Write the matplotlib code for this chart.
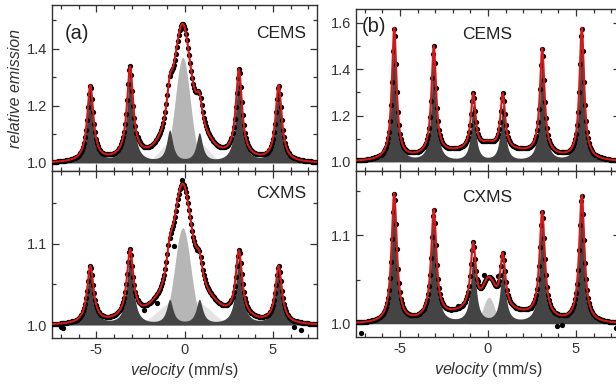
import numpy as np
import matplotlib.pyplot as plt
from matplotlib.ticker import MultipleLocator

plt.rcParams['font.family'] = ['Liberation Sans', 'DejaVu Sans']
plt.rcParams['mathtext.fontset'] = 'custom'
plt.rcParams['mathtext.it'] = 'Liberation Sans:italic'
plt.rcParams['mathtext.rm'] = 'Liberation Sans'

# positions of the six sextet lines (mm/s)
line_pos = [-5.33, -3.08, -0.84, 0.84, 3.08, 5.33]

# (a) CEMS: sextet heights, hwhm; light doublet; central singlet; broad background
a_cems_sextet = [0.265, 0.315, 0.11, 0.10, 0.305, 0.265]
a_cems_hwhm = 0.21
a_cems_doublet = [0.07, 0.07]
a_cems_doublet_pos = [-0.8, 0.8]
a_cems_doublet_sig = 0.6
a_cems_center = [-0.1, 0.37, 0.42]     # centre, height, sigma
a_cems_bg = [0.042, 2.5]               # height, sigma

# (a) CXMS
a_cxms_sextet = [0.07, 0.083, 0.03, 0.03, 0.082, 0.07]
a_cxms_hwhm = 0.22
a_cxms_doublet = [0.025, 0.025]
a_cxms_doublet_pos = [-0.8, 0.8]
a_cxms_doublet_sig = 0.8
a_cxms_center = [-0.1, 0.12, 0.45]
a_cxms_bg = [0.019, 2.5]
a_cxms_extra_v = [-0.13, -0.6, 0.72, -1.55, -2.32, -7.0, -6.85, 6.2, 6.6]
a_cxms_extra_y = [1.179, 1.097, 1.093, 1.027, 1.019, 0.998, 0.996, 0.998, 0.994]

# (b) CEMS
b_cems_sextet = [0.565, 0.465, 0.24, 0.24, 0.455, 0.565]
b_cems_hwhm = 0.16
b_cems_center = [0.0, 0.02, 0.3]
b_cems_bg = [0.052, 3.0]

# (b) CXMS
b_cxms_sextet = [0.146, 0.122, 0.075, 0.062, 0.12, 0.144]
b_cxms_hwhm = 0.18
b_cxms_center = [0.05, 0.03, 0.32]
b_cxms_bg = [0.016, 2.2]
b_cxms_extra_v = [-0.2, -0.58, 0.55, -2.09, -1.7, 2.43, 4.3, 4.2, 3.9, -7.2, 7.3]
b_cxms_extra_y = [1.055, 1.048, 1.054, 1.016, 1.02, 1.018, 1.01, 0.999, 0.998, 0.99, 0.995]


def lorentz(v, pos, heights, g):
    return sum(h / (1 + ((v - p) / g) ** 2) for p, h in zip(pos, heights))


def gauss(v, c, h, s):
    return h * np.exp(-(v - c) ** 2 / (2 * s ** 2))


fig = plt.figure(figsize=(6.16, 3.85), dpi=100)
W, H = 616, 385


def add_ax(x0, x1, y0, y1):
    return fig.add_axes([x0 / W, 1 - y1 / H, (x1 - x0) / W, (y1 - y0) / H])


ax_a1 = add_ax(52, 317, 5, 171)
ax_a2 = add_ax(52, 317, 171, 338)
ax_b1 = add_ax(356, 620, 9, 171)
ax_b2 = add_ax(356, 620, 171, 337)

vf = np.linspace(-7.6, 7.6, 800)
vd = np.linspace(-7.45, 7.45, 256)

panels = [
    (ax_a1, a_cems_sextet, a_cems_hwhm, (a_cems_doublet, a_cems_doublet_pos, a_cems_doublet_sig),
     a_cems_center, a_cems_bg, None, None),
    (ax_a2, a_cxms_sextet, a_cxms_hwhm, (a_cxms_doublet, a_cxms_doublet_pos, a_cxms_doublet_sig),
     a_cxms_center, a_cxms_bg, a_cxms_extra_v, a_cxms_extra_y),
    (ax_b1, b_cems_sextet, b_cems_hwhm, None, b_cems_center, b_cems_bg, None, None),
    (ax_b2, b_cxms_sextet, b_cxms_hwhm, None, b_cxms_center, b_cxms_bg, b_cxms_extra_v, b_cxms_extra_y),
]

for ax, sext, hw, dbl, cen, bg, ev, ey in panels:
    def model(v):
        y = 1 + lorentz(v, line_pos, sext, hw) + gauss(v, *cen) + gauss(v, 0, bg[0], bg[1])
        if dbl is not None:
            y = y + sum(gauss(v, p, h, dbl[2]) for p, h in zip(dbl[1], dbl[0]))
        return y

    if dbl is not None:
        dsum = sum(gauss(vf, p, h, dbl[2]) for p, h in zip(dbl[1], dbl[0]))
        ax.fill_between(vf, 1, 1 + dsum, color='#e4e4e4', lw=0, zorder=1)
        ax.fill_between(vf, 1, 1 + gauss(vf, *cen), color='#b6b6b6', lw=0, zorder=2)
    else:
        ax.fill_between(vf, 1, 1 + gauss(vf, *cen), color='#c6c6c6', lw=0, zorder=2)
    ax.fill_between(vf, 1, 1 + lorentz(vf, line_pos, sext, hw), color='#444444', lw=0, zorder=3)

    ax.plot(vd, model(vd), 'o', color='black', ms=3.8, mew=0, zorder=4)
    if ev is not None:
        ax.plot(ev, ey, 'o', color='black', ms=3.8, mew=0, zorder=4)
    ax.plot(vf, model(vf), color='#d21a1a', lw=1.5, zorder=5)

    ax.set_xlim(-7.5, 7.5)
    ax.xaxis.set_major_locator(MultipleLocator(5))
    ax.xaxis.set_minor_locator(MultipleLocator(1))
    ax.tick_params(which='both', direction='in', top=True, right=True,
                   labelsize=10.5, colors='#333333', width=0.9)
    ax.tick_params(which='major', length=5)
    ax.tick_params(which='minor', length=3)
    for s in ax.spines.values():
        s.set_color('#333333')
        s.set_linewidth(1.0)

ax_a1.set_ylim(0.972, 1.553)
ax_a1.yaxis.set_major_locator(MultipleLocator(0.2))
ax_a1.yaxis.set_minor_locator(MultipleLocator(0.1))
ax_b1.set_ylim(0.961, 1.659)
ax_b1.yaxis.set_major_locator(MultipleLocator(0.2))
ax_b1.yaxis.set_minor_locator(MultipleLocator(0.1))
ax_a2.set_ylim(0.984, 1.19)
ax_a2.yaxis.set_major_locator(MultipleLocator(0.1))
ax_a2.yaxis.set_minor_locator(MultipleLocator(0.05))
ax_b2.set_ylim(0.985, 1.173)
ax_b2.yaxis.set_major_locator(MultipleLocator(0.1))
ax_b2.yaxis.set_minor_locator(MultipleLocator(0.05))

for ax in (ax_a1, ax_b1, ax_a2, ax_b2):
    ax.yaxis.set_major_formatter(plt.FormatStrFormatter('%.1f'))
for ax in (ax_a1, ax_b1):
    ax.tick_params(labelbottom=False)
for ax in (ax_a2, ax_b2):
    ax.set_xticks([-5, 0, 5])
    ax.set_xticklabels(['-5', '0', '5'])
    ax.set_xlabel(r'$\it{velocity}$ (mm/s)', fontsize=11.5, color='#333333', labelpad=3)

ax_a1.set_ylabel('relative emission', fontsize=11.5, style='italic', color='#333333', labelpad=3)

tc = '#222222'
ax_a1.text(0.05, 0.83, '(a)', transform=ax_a1.transAxes, fontsize=14.5, color=tc, va='center')
ax_a1.text(0.96, 0.83, 'CEMS', transform=ax_a1.transAxes, fontsize=12.5, color=tc, va='center', ha='right')
ax_a2.text(0.96, 0.865, 'CXMS', transform=ax_a2.transAxes, fontsize=12.5, color=tc, va='center', ha='right')
ax_b1.text(0.02, 0.89, '(b)', transform=ax_b1.transAxes, fontsize=14.5, color=tc, va='center')
ax_b1.text(0.496, 0.844, 'CEMS', transform=ax_b1.transAxes, fontsize=12.5, color=tc, va='center', ha='center')
ax_b2.text(0.496, 0.84, 'CXMS', transform=ax_b2.transAxes, fontsize=12.5, color=tc, va='center', ha='center')

fig.savefig('out.png', dpi=100)
